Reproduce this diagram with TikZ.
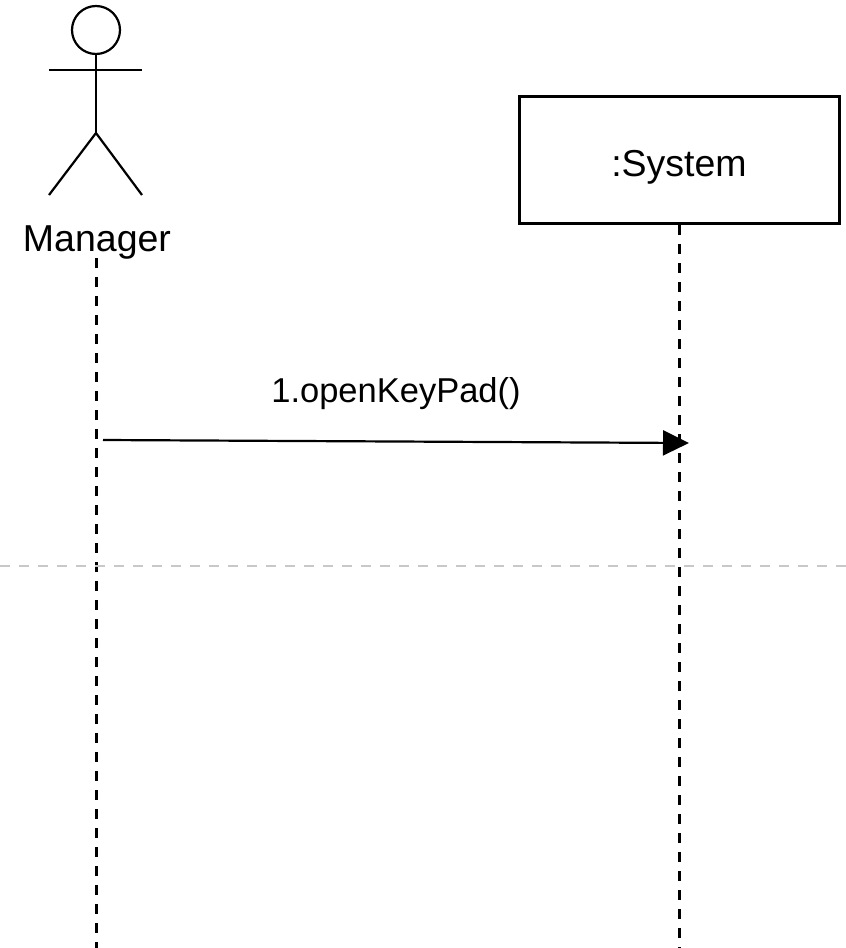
\documentclass[tikz,border=0pt]{standalone}
\usepackage{fontspec}
\setmainfont{Liberation Sans}
\usetikzlibrary{arrows.meta}
\definecolor{sepgray}{RGB}{200,200,200}
\begin{document}
\begin{tikzpicture}[x=1pt,y=-1pt,
  actorline/.style={line width=2.2pt, black},
  lifeline/.style={line width=3pt, black, dash pattern=on 10pt off 9pt},
  objbox/.style={draw, line width=3pt, minimum width=320pt, minimum height=127pt, inner sep=0pt},
  msg/.style={line width=2.2pt, -{Triangle[length=26pt, width=25pt]}},
  lbl/.style={inner sep=0pt, font=\fontsize{37.5}{40}\selectfont},
  msglbl/.style={inner sep=0pt, font=\fontsize{34.5}{40}\selectfont},
  sep/.style={line width=2pt, sepgray, dash pattern=on 10pt off 9pt}]
\useasboundingbox (0,0) rectangle (846,948);
% actor
\node[draw, circle, line width=2.2pt, minimum size=48pt, inner sep=0pt] (head) at (96,30) {};
\coordinate (hip) at (96,133);
\coordinate (armL) at (49,70);
\coordinate (armR) at (142,70);
\coordinate (legL) at (49,195);
\coordinate (legR) at (142,195);
\draw[actorline] (head.south) -- (hip);
\draw[actorline] (armL) -- (armR);
\draw[actorline] (legL) -- (hip) -- (legR);
\node[lbl, anchor=base] (mgr) at (97,251) {Manager};
% system
\node[objbox] (sys) at (679,160) {};
\node[lbl, anchor=base] (systxt) at (679,176) {:System};
% lifelines
\coordinate (mgrTop) at (96,258);
\coordinate (mgrBot) at (96,948);
\coordinate (sysBot) at (679,948);
\draw[lifeline] (mgrTop) -- (mgrBot);
\draw[lifeline] (sys.south) -- (sysBot);
% separator
\coordinate (sepL) at (0,566);
\coordinate (sepR) at (846,566);
\draw[sep] (sepL) -- (sepR);
% message
\coordinate (msgA) at (103,440);
\coordinate (msgB) at (689,443);
\draw[msg] (msgA) -- (msgB);
\node[msglbl, anchor=base] (msglbl) at (396,402) {1.openKeyPad()};
\end{tikzpicture}
\end{document}
